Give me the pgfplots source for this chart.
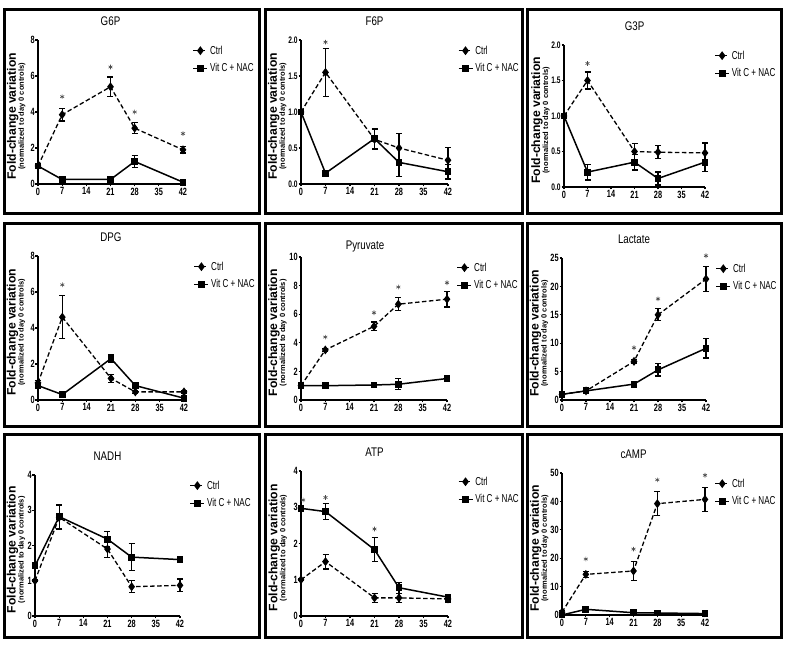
\documentclass[border=0pt]{standalone}
\usepackage{pgfplots}
\pgfplotsset{compat=1.18}
\usepackage{fontspec}
\setmainfont{Liberation Sans}
\newfontfamily\narrow[FakeStretch=0.7]{Liberation Sans}
\newfontfamily\tnarrow[FakeStretch=0.78]{Liberation Sans}

\newcommand{\tickfont}{\narrow\bfseries\fontsize{10.5}{10.5}\selectfont}
\newcommand{\dectickfont}{\narrow\bfseries\fontsize{9.5}{9.5}\selectfont}
\newcommand{\titlefont}{\tnarrow\fontsize{12.5}{13}\selectfont}
\newcommand{\legfont}{\narrow\fontsize{11.5}{11.5}\selectfont}

\pgfplotsset{
  panel/.style={
    scale only axis, width=145pt, height=143pt, anchor=south west,
    xmin=0, xmax=42, ymin=0,
    axis lines*=left, axis line style={line width=1.3pt},
    tick align=outside, major tick length=2.5pt,
    tick style={line width=1.2pt, black},
    xtick={0,7,14,21,28,35,42},
    clip=false,
    ticklabel style={font=\tickfont},
    xticklabel style={inner sep=1pt},
    yticklabel style={inner sep=0.7pt},
    /pgf/number format/assume math mode=true,
    title style={font=\titlefont, at={(0.5,1)}, anchor=center, yshift=13pt},
    ylabel={\fontsize{12.2}{12}\selectfont\bfseries Fold-change variation\\[-4pt]
            \fontsize{7.5}{8}\selectfont\bfseries (normalized to day 0 controls)},
    ylabel style={align=center, inner sep=0pt, anchor=south},
    legend style={at={(1.065,0.975)}, anchor=north west, draw=none, fill=none,
                  font=\legfont, row sep=4pt, inner sep=0pt,
                  nodes={inner sep=2pt}},
    legend cell align=left,
    legend image code/.code={\draw[mark repeat=2,mark phase=2,#1]
        plot coordinates {(0pt,0pt)(7pt,0pt)(14pt,0pt)};},
  },
  ylx/.style={ylabel style={at={(axis description cs:#1,0.47)}}},
  decimal/.style={yticklabel style={font=\dectickfont,
    /pgf/number format/.cd, fixed, fixed zerofill, precision=1}},
  ctrl/.style={black, line width=1.3pt, dash pattern=on 4.5pt off 2.5pt,
    mark=diamond*, mark size=3.4pt, mark options={solid, fill=black},
    error bars/.cd, y dir=both, y explicit,
    error bar style={solid, line width=1.3pt},
    error mark options={rotate=90, mark size=3pt, line width=1.3pt, solid}},
  vit/.style={black, line width=1.5pt,
    mark=square*, mark size=2.7pt, mark options={solid, fill=black},
    error bars/.cd, y dir=both, y explicit,
    error bar style={solid, line width=1.3pt},
    error mark options={rotate=90, mark size=3pt, line width=1.3pt, solid}},
  stars/.style={only marks, mark=asterisk, mark size=2.3pt, line width=0.6pt,
    black!70, forget plot},
}

\begin{document}
\begin{tikzpicture}
\useasboundingbox (0,0) rectangle (787pt,655pt);

% panel frames
\begin{scope}[line width=3pt]
  \draw (4pt,645.5pt) rectangle (259.5pt,441pt);
  \draw (265pt,645.5pt) rectangle (522pt,441pt);
  \draw (527pt,645.5pt) rectangle (781.5pt,441pt);
  \draw (4pt,431.5pt) rectangle (259.5pt,228.5pt);
  \draw (265pt,431.5pt) rectangle (522pt,228.5pt);
  \draw (527pt,431.5pt) rectangle (781.5pt,228.5pt);
  \draw (4pt,220pt) rectangle (259.5pt,17pt);
  \draw (265pt,220pt) rectangle (522pt,17pt);
  \draw (527pt,220pt) rectangle (781.5pt,17pt);
\end{scope}

% G6P
\begin{axis}[panel, ylx=-0.086, at={(38pt,471pt)}, width=145pt, height=144pt,
  ymax=8, ytick={0,2,...,8}, title={G6P}]
\addplot[ctrl] coordinates {(0,1)+-(0,0.08) (7,3.85)+-(0,0.35) (21,5.4)+-(0,0.55) (28,3.1)+-(0,0.3) (42,1.9)+-(0,0.17)};
\addplot[vit] coordinates {(0,1)+-(0,0.08) (7,0.25)+-(0,0.08) (21,0.25)+-(0,0.08) (28,1.25)+-(0,0.32) (42,0.1)+-(0,0.05)};
\addplot[stars] coordinates {(7,4.85) (21,6.5) (28,4.0) (42,2.8)};
\legend{Ctrl, Vit C + NAC}
\end{axis}

% F6P
\begin{axis}[panel, decimal, ylx=-0.097, at={(301pt,471pt)}, width=147pt, height=144pt,
  ymax=2, ytick={0,0.5,...,2}, title={F6P}]
\addplot[ctrl] coordinates {(0,1)+-(0,0.02) (7,1.55)+-(0,0.33) (21,0.62)+-(0,0.14) (28,0.5)+-(0,0.2) (42,0.33)+-(0,0.18)};
\addplot[vit] coordinates {(0,1)+-(0,0.02) (7,0.15)+-(0,0.02) (21,0.63)+-(0,0.14) (28,0.3)+-(0,0.2) (42,0.17)+-(0,0.1)};
\addplot[stars] coordinates {(7,1.97)};
\legend{Ctrl, Vit C + NAC}
\end{axis}

% G3P
\begin{axis}[panel, decimal, ylx=-0.101, at={(564pt,468pt)}, width=141pt, height=142pt,
  ymax=2, ytick={0,0.5,...,2}, title={G3P}]
\addplot[ctrl] coordinates {(0,1)+-(0,0.02) (7,1.5)+-(0,0.12) (21,0.5)+-(0,0.11) (28,0.49)+-(0,0.09) (42,0.48)+-(0,0.14)};
\addplot[vit] coordinates {(0,1)+-(0,0.02) (7,0.21)+-(0,0.11) (21,0.35)+-(0,0.11) (28,0.12)+-(0,0.09) (42,0.35)+-(0,0.13)};
\addplot[stars] coordinates {(7,1.74)};
\legend{Ctrl, Vit C + NAC}
\end{axis}

% DPG
\begin{axis}[panel, ylx=-0.086, at={(38pt,255pt)}, width=146pt, height=144pt,
  ymax=8, ytick={0,2,...,8}, title={DPG}]
\addplot[ctrl] coordinates {(0,0.95)+-(0,0.15) (7,4.6)+-(0,1.2) (21,1.2)+-(0,0.22) (28,0.45)+-(0,0.08) (42,0.45)+-(0,0.06)};
\addplot[vit] coordinates {(0,0.8)+-(0,0.1) (7,0.3)+-(0,0.06) (21,2.3)+-(0,0.22) (28,0.8)+-(0,0.1) (42,0.1)+-(0,0.05)};
\addplot[stars] coordinates {(7,6.4)};
\legend{Ctrl, Vit C + NAC}
\end{axis}

% Pyruvate
\begin{axis}[panel, ylx=-0.096, at={(301pt,255pt)}, width=146pt, height=143pt,
  ymax=10, ytick={0,2,...,10}, title={Pyruvate},
  title style={yshift=-9pt, xshift=-9pt}]
\addplot[ctrl] coordinates {(0,1)+-(0,0.1) (7,3.5)+-(0,0.1) (21,5.15)+-(0,0.3) (28,6.7)+-(0,0.45) (42,7.05)+-(0,0.55)};
\addplot[vit] coordinates {(0,1)+-(0,0.1) (7,1.0)+-(0,0.1) (21,1.05)+-(0,0.1) (28,1.1)+-(0,0.38) (42,1.5)+-(0,0.2)};
\addplot[stars] coordinates {(7,4.4) (21,6.1) (28,7.9) (42,8.2)};
\legend{Ctrl, Vit C + NAC}
\end{axis}

% Lactate
\begin{axis}[panel, ylx=-0.094, at={(562pt,255pt)}, width=144pt, height=142pt,
  ymax=25, ytick={0,5,...,25}, title={Lactate}]
\addplot[ctrl] coordinates {(0,1)+-(0,0.2) (7,1.6)+-(0,0.2) (21,6.8)+-(0,0.3) (28,15)+-(0,1.05) (42,21.3)+-(0,2.2)};
\addplot[vit] coordinates {(0,1)+-(0,0.2) (7,1.6)+-(0,0.2) (21,2.8)+-(0,0.2) (28,5.3)+-(0,1.1) (42,9.1)+-(0,1.7)};
\addplot[stars] coordinates {(21,9.2) (28,17.8) (42,25.4)};
\legend{Ctrl, Vit C + NAC}
\end{axis}

% NADH
\begin{axis}[panel, ylx=-0.066, at={(35pt,39pt)}, width=145pt, height=141pt,
  ymax=4, ytick={0,1,...,4}, title={NADH}]
\addplot[ctrl] coordinates {(0,1)+-(0,0.03) (7,2.8)+-(0,0.33) (21,1.9)+-(0,0.25) (28,0.83)+-(0,0.17) (42,0.87)+-(0,0.18)};
\addplot[vit] coordinates {(0,1.42)+-(0,0.05) (7,2.82)+-(0,0.35) (21,2.18)+-(0,0.22) (28,1.67)+-(0,0.38) (42,1.6)+-(0,0.05)};
\legend{Ctrl, Vit C + NAC}
\end{axis}

% ATP
\begin{axis}[panel, ylx=-0.095, at={(301pt,39pt)}, width=147pt, height=145pt,
  ymax=4, ytick={0,1,...,4}, title={ATP}]
\addplot[ctrl] coordinates {(0,1)+-(0,0.03) (7,1.5)+-(0,0.2) (21,0.5)+-(0,0.12) (28,0.5)+-(0,0.12) (42,0.47)+-(0,0.08)};
\addplot[vit] coordinates {(0,2.97)+-(0,0.04) (7,2.88)+-(0,0.22) (21,1.83)+-(0,0.33) (28,0.78)+-(0,0.15) (42,0.52)+-(0,0.06)};
\addplot[stars] coordinates {(0.6,3.2) (7,3.27) (21,2.4)};
\legend{Ctrl, Vit C + NAC}
\end{axis}

% cAMP
\begin{axis}[panel, ylx=-0.094, at={(562pt,40pt)}, width=143pt, height=142pt,
  ymax=50, ytick={0,10,...,50}, title={cAMP}]
\addplot[ctrl] coordinates {(0,1)+-(0,0.5) (7,14.3)+-(0,1.1) (21,15.5)+-(0,3.3) (28,39.2)+-(0,4.2) (42,40.7)+-(0,4.3)};
\addplot[vit] coordinates {(0,0)+-(0,0.5) (7,2.0)+-(0,0.4) (21,0.8)+-(0,0.5) (28,0.7)+-(0,0.5) (42,0.5)+-(0,0.4)};
\addplot[stars] coordinates {(7,19.7) (21,23.2) (28,47.6) (42,49.2)};
\legend{Ctrl, Vit C + NAC}
\end{axis}

\end{tikzpicture}
\end{document}
